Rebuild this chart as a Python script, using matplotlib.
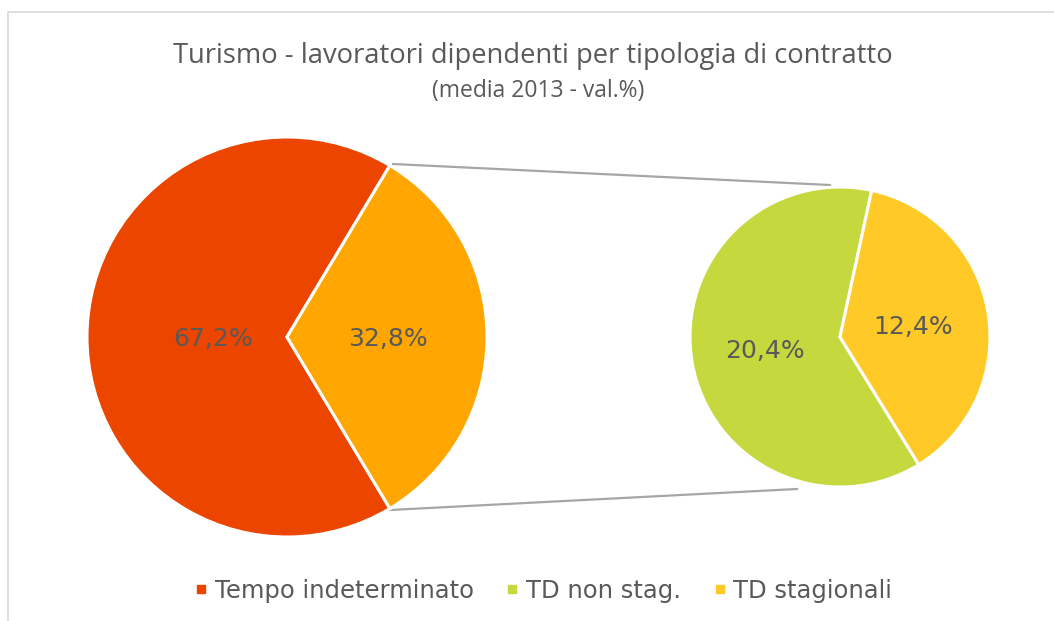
import matplotlib
matplotlib.use("Agg")
import matplotlib.pyplot as plt
from matplotlib.lines import Line2D
from matplotlib.patches import Rectangle

plt.rcParams["font.family"] = ["DejaVu Sans"]

# ---- data ----
main_labels = ["Tempo indeterminato", "TD"]
main_values = [67.2, 32.8]
sub_labels = ["TD non stag.", "TD stagionali"]
sub_values = [20.4, 12.4]
legend_labels = ["Tempo indeterminato", "TD non stag.", "TD stagionali"]

title = "Turismo - lavoratori dipendenti per tipologia di contratto"
subtitle = "(media 2013 - val.%)"

main_colors = ["#EB4500", "#FFA600"]
sub_colors = ["#C5D83E", "#FFCA28"]
legend_colors = ["#EB4500", "#C5D83E", "#FFCA28"]
text_color = "#595959"

W, H = 1054, 621
fig = plt.figure(figsize=(W / 100, H / 100), dpi=100)
ax = fig.add_axes([0, 0, 1, 1])


def py(y):
    return H - y


# border (only top and left visible in the crop)
ax.add_patch(Rectangle((8, py(700)), 1200, 700 - 11.5, fill=False,
                       edgecolor="#D9D9D9", linewidth=1.2, zorder=0))

# connector lines
ax.plot([393, 830], [py(164), py(185)], color="#A6A6A6", lw=1.6, zorder=1)
ax.plot([390, 797], [py(510), py(489)], color="#A6A6A6", lw=1.6, zorder=1)

# main pie
start_main = main_values[1] / 2 * 3.6
w1, _ = ax.pie(main_values, colors=main_colors, startangle=start_main,
               center=(287, py(337)), radius=200, frame=True,
               wedgeprops=dict(edgecolor="white", linewidth=2.2))
# secondary pie
w2, _ = ax.pie(sub_values, colors=sub_colors, startangle=77.8,
               center=(840, py(337)), radius=150, frame=True,
               wedgeprops=dict(edgecolor="white", linewidth=2.2))
ax.set_xlim(0, W)
ax.set_ylim(0, H)
ax.set_aspect("equal")
ax.axis("off")

fmt = lambda v: f"{v:.1f}%".replace(".", ",")
lab_pos = [(213, 339), (387.5, 339), (764.5, 351), (913, 327)]
for v, (x, y) in zip(main_values + sub_values, lab_pos):
    ax.text(x, py(y), fmt(v), ha="center", va="center", fontsize=18,
            color=text_color, family="DejaVu Sans")

# titles
ax.text(533, py(63), title, ha="center", va="baseline", fontsize=19.7,
        color=text_color, family=["Open Sans", "DejaVu Sans"])
ax.text(538, py(97), subtitle, ha="center", va="baseline", fontsize=16.5,
        color=text_color, family=["Open Sans", "DejaVu Sans"])

# legend
handles = [Line2D([], [], marker="s", linestyle="none", markersize=6.2,
                  markerfacecolor=c, markeredgecolor=c) for c in legend_colors]
leg = fig.legend(handles, legend_labels, loc="center", ncol=3, frameon=False,
                 bbox_to_anchor=(543.5 / W, 1 - 591 / H),
                 prop=dict(family="DejaVu Sans", size=17.5),
                 handlelength=0.5, handletextpad=0.3, columnspacing=1.35,
                 borderaxespad=0)
for t in leg.get_texts():
    t.set_color(text_color)

fig.savefig("out.png", dpi=100, facecolor="white")
